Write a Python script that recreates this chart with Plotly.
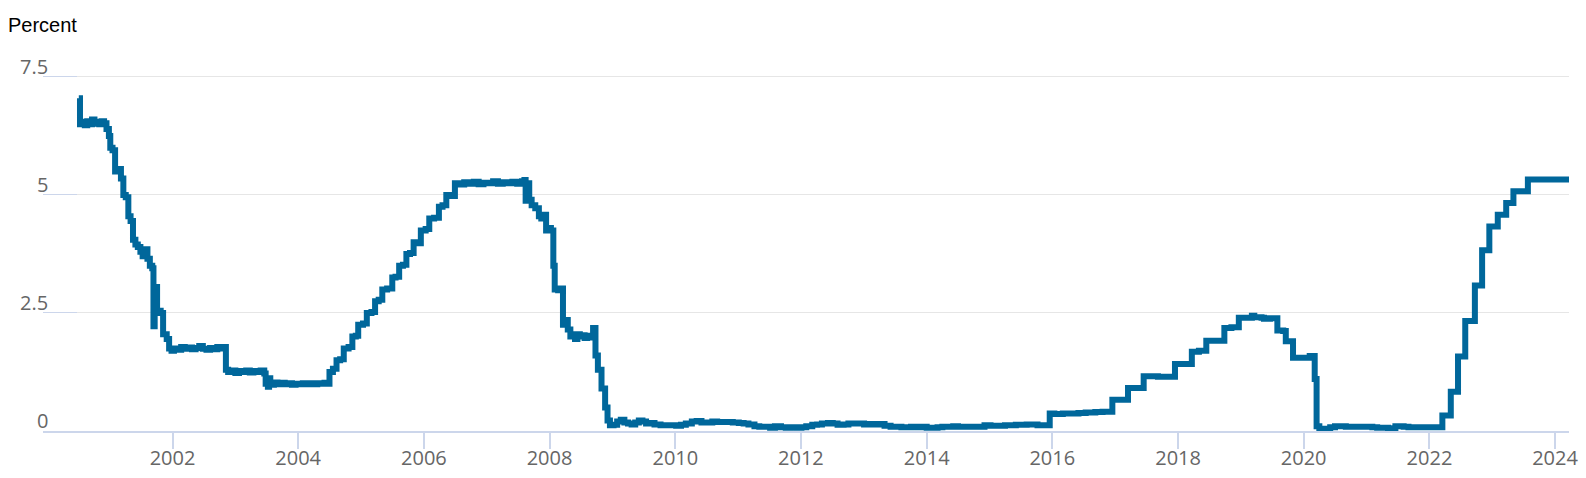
import plotly.graph_objects as go

# ---- data: effective federal funds rate (percent) ----
d2000 = ["2000-07-05","2000-07-12","2000-07-26","2000-08-09","2000-08-23","2000-09-06","2000-09-20",
         "2000-10-04","2000-10-18","2000-11-01","2000-11-15","2000-11-29","2000-12-13","2000-12-27"]
r2000 = [7.05,6.50,6.55,6.48,6.56,6.50,6.60,6.51,6.55,6.50,6.56,6.52,6.40,6.25]

d2001 = ["2001-01-04","2001-01-17","2001-02-01","2001-02-21","2001-03-07","2001-03-21","2001-04-04",
         "2001-04-19","2001-05-02","2001-05-16","2001-05-30","2001-06-13","2001-06-28","2001-07-11",
         "2001-07-25","2001-08-08","2001-08-22","2001-09-05","2001-09-12","2001-09-19","2001-10-03",
         "2001-10-24","2001-11-07","2001-11-28","2001-12-12","2001-12-26"]
r2001 = [6.00,5.95,5.50,5.55,5.35,5.00,4.95,4.55,4.45,4.05,3.95,3.90,3.80,3.70,
         3.85,3.65,3.50,3.45,2.22,3.05,2.55,2.50,2.05,1.95,1.75,1.70]

d2002 = ["2002-01-09","2002-01-30","2002-02-20","2002-03-13","2002-04-03","2002-04-24","2002-05-15",
         "2002-06-05","2002-06-26","2002-07-17","2002-08-07","2002-08-28","2002-09-18","2002-10-09",
         "2002-10-30","2002-11-07","2002-11-20","2002-12-11"]
r2002 = [1.75,1.72,1.78,1.74,1.77,1.73,1.76,1.80,1.74,1.72,1.76,1.73,1.78,1.75,
         1.78,1.30,1.25,1.28]

d2003 = ["2003-01-01","2003-01-22","2003-02-12","2003-03-05","2003-03-26","2003-04-16","2003-05-07",
         "2003-05-28","2003-06-18","2003-06-26","2003-07-09","2003-07-16","2003-07-23","2003-08-13",
         "2003-09-03","2003-09-24","2003-10-15","2003-11-05","2003-11-26","2003-12-17"]
r2003 = [1.23,1.27,1.25,1.28,1.24,1.27,1.25,1.28,1.22,1.00,0.94,1.12,0.98,1.03,
         0.99,1.02,0.99,1.01,0.98,1.00]

d2004 = ["2004-01-07","2004-01-28","2004-02-18","2004-03-10","2004-03-31","2004-04-21","2004-05-12",
         "2004-06-02","2004-06-23","2004-07-01","2004-07-21","2004-08-11","2004-09-01","2004-09-22",
         "2004-10-20","2004-11-11","2004-12-01","2004-12-15"]
r2004 = [0.99,1.01,0.99,1.01,0.99,1.01,1.00,1.02,1.00,1.25,1.32,1.50,1.52,1.75,
         1.78,2.00,2.02,2.25]

d2005 = ["2005-01-12","2005-02-03","2005-03-02","2005-03-23","2005-04-13","2005-05-04","2005-06-01",
         "2005-07-01","2005-07-20","2005-08-10","2005-09-01","2005-09-21","2005-10-12","2005-11-02",
         "2005-11-23","2005-12-14"]
r2005 = [2.28,2.50,2.52,2.75,2.78,3.00,3.02,3.25,3.27,3.50,3.52,3.75,3.77,4.00,3.98,4.25]

d2006 = ["2006-01-11","2006-02-01","2006-03-01","2006-03-29","2006-04-19","2006-05-11","2006-06-07",
         "2006-06-30","2006-07-26","2006-08-23","2006-09-20","2006-10-18","2006-11-15","2006-12-13"]
r2006 = [4.28,4.50,4.52,4.75,4.78,5.00,4.98,5.25,5.22,5.27,5.24,5.28,5.23,5.26]

d2007 = ["2007-01-10","2007-02-07","2007-03-07","2007-04-04","2007-05-02","2007-05-30","2007-06-27",
         "2007-07-25","2007-08-08","2007-08-15","2007-08-29","2007-09-05","2007-09-19","2007-10-10",
         "2007-10-31","2007-11-14","2007-11-28","2007-12-12","2007-12-26"]
r2007 = [5.25,5.29,5.24,5.27,5.25,5.28,5.24,5.29,5.32,4.88,5.25,4.90,4.78,4.72,
         4.55,4.50,4.58,4.25,4.30]

d2008 = ["2008-01-09","2008-01-23","2008-01-31","2008-02-20","2008-03-05","2008-03-19","2008-04-02",
         "2008-04-16","2008-05-01","2008-05-14","2008-05-28","2008-06-11","2008-06-25","2008-07-09",
         "2008-07-23","2008-08-06","2008-08-20","2008-09-03","2008-09-10","2008-09-24","2008-10-08",
         "2008-10-29","2008-11-19","2008-12-03","2008-12-17"]
r2008 = [4.25,3.50,3.00,2.98,3.02,2.25,2.35,2.15,2.00,2.05,1.95,2.05,2.00,2.03,
         1.97,2.02,2.00,1.98,2.18,1.60,1.30,0.90,0.50,0.22,0.12]

d2009 = ["2009-01-07","2009-01-28","2009-02-18","2009-03-11","2009-04-01","2009-04-22","2009-05-13",
         "2009-06-03","2009-06-24","2009-07-15","2009-08-05","2009-09-02","2009-10-07","2009-11-04",
         "2009-12-02"]
r2009 = [0.13,0.20,0.24,0.18,0.16,0.14,0.18,0.22,0.20,0.16,0.17,0.14,0.12,0.12,0.12]

d2010 = ["2010-01-06","2010-02-03","2010-03-03","2010-04-07","2010-05-05","2010-06-02","2010-07-07",
         "2010-08-04","2010-09-01","2010-10-06","2010-11-03","2010-12-01"]
r2010 = [0.11,0.13,0.16,0.20,0.21,0.18,0.18,0.20,0.19,0.19,0.19,0.18]

d2011 = ["2011-01-05","2011-02-02","2011-03-02","2011-04-06","2011-05-04","2011-06-01","2011-07-06",
         "2011-08-03","2011-09-07","2011-10-05","2011-11-02","2011-12-07"]
r2011 = [0.17,0.16,0.14,0.10,0.09,0.09,0.07,0.10,0.08,0.07,0.08,0.07]

d2012 = ["2012-01-04","2012-02-01","2012-03-07","2012-04-04","2012-05-02","2012-06-06","2012-07-04",
         "2012-08-01","2012-09-05","2012-10-03","2012-11-07","2012-12-05"]
r2012 = [0.08,0.10,0.13,0.14,0.16,0.17,0.16,0.13,0.14,0.16,0.16,0.16]

d2013 = ["2013-01-02","2013-02-06","2013-03-06","2013-04-03","2013-05-01","2013-06-05","2013-07-03",
         "2013-08-07","2013-09-04","2013-10-02","2013-11-06","2013-12-04"]
r2013 = [0.14,0.15,0.14,0.15,0.11,0.09,0.09,0.08,0.08,0.09,0.08,0.09]

d2014 = ["2014-01-01","2014-02-05","2014-03-05","2014-04-02","2014-05-07","2014-06-04","2014-07-02",
         "2014-08-06","2014-09-03","2014-10-01","2014-11-05","2014-12-03"]
r2014 = [0.07,0.07,0.08,0.09,0.09,0.10,0.09,0.09,0.09,0.09,0.09,0.12]

d2015 = ["2015-01-07","2015-02-04","2015-03-04","2015-04-01","2015-05-06","2015-06-03","2015-07-01",
         "2015-08-05","2015-09-02","2015-10-07","2015-11-04","2015-12-17"]
r2015 = [0.11,0.11,0.11,0.12,0.12,0.13,0.13,0.14,0.14,0.12,0.12,0.37]

d2016 = ["2016-01-13","2016-03-02","2016-04-13","2016-06-01","2016-07-13","2016-09-07","2016-10-19",
         "2016-12-15"]
r2016 = [0.36,0.37,0.37,0.38,0.39,0.40,0.41,0.66]

d2017 = ["2017-02-01","2017-03-16","2017-05-03","2017-06-15","2017-09-06","2017-12-14"]
r2017 = [0.66,0.91,0.91,1.16,1.15,1.42]

d2018 = ["2018-02-07","2018-03-22","2018-05-02","2018-06-14","2018-08-01","2018-09-27","2018-11-07",
         "2018-12-20"]
r2018 = [1.42,1.68,1.70,1.91,1.91,2.18,2.20,2.40]

d2019 = ["2019-02-06","2019-03-06","2019-03-20","2019-05-01","2019-05-15","2019-06-19","2019-08-01",
         "2019-09-04","2019-09-19","2019-10-31","2019-12-04"]
r2019 = [2.40,2.44,2.41,2.40,2.38,2.39,2.13,2.12,1.90,1.55,1.55]

d2020 = ["2020-01-08","2020-02-05","2020-03-05","2020-03-16","2020-04-01","2020-05-06","2020-06-03",
         "2020-07-01","2020-08-05","2020-09-02","2020-10-07","2020-11-04","2020-12-02"]
r2020 = [1.55,1.59,1.10,0.10,0.05,0.05,0.08,0.10,0.10,0.09,0.09,0.09,0.09]

d2021 = ["2021-01-06","2021-02-03","2021-03-03","2021-04-07","2021-05-05","2021-06-17","2021-07-07",
         "2021-08-04","2021-09-01","2021-10-06","2021-11-03","2021-12-01"]
r2021 = [0.09,0.08,0.07,0.07,0.06,0.10,0.10,0.09,0.08,0.08,0.08,0.08]

d2022 = ["2022-01-05","2022-03-17","2022-05-05","2022-06-16","2022-07-28","2022-09-22","2022-11-03",
         "2022-12-15"]
r2022 = [0.08,0.33,0.83,1.58,2.33,3.08,3.83,4.33]

d2023 = ["2023-02-02","2023-03-23","2023-05-04","2023-07-27","2023-10-04"]
r2023 = [4.58,4.83,5.08,5.33,5.33]

d2024 = ["2024-01-03","2024-03-27"]
r2024 = [5.33,5.33]

date_parts = [d2000,d2001,d2002,d2003,d2004,d2005,d2006,d2007,d2008,d2009,d2010,d2011,d2012,
              d2013,d2014,d2015,d2016,d2017,d2018,d2019,d2020,d2021,d2022,d2023,d2024]
rate_parts = [r2000,r2001,r2002,r2003,r2004,r2005,r2006,r2007,r2008,r2009,r2010,r2011,r2012,
              r2013,r2014,r2015,r2016,r2017,r2018,r2019,r2020,r2021,r2022,r2023,r2024]
dates, rates = [], []
for dp, rp in zip(date_parts, rate_parts):
    assert len(dp) == len(rp), (dp[0], len(dp), len(rp))
    dates += dp
    rates += rp

# ---- axis ticks ----
x_tick_years = [2002,2004,2006,2008,2010,2012,2014,2016,2018,2020,2022,2024]
x_tick_vals = [f"{y}-01-01" for y in x_tick_years]
x_tick_text = [str(y) for y in x_tick_years]
y_tick_vals = [0, 2.5, 5, 7.5]
y_tick_text = ["0", "2.5", "5", "7.5"]
y_title = "Percent"

LINE_COLOR = "#00679b"
LABEL_COLOR = "#666666"
AXIS_BLUE = "#ccd6eb"
TICK_FONT = dict(family="Open Sans", size=20, color=LABEL_COLOR)

fig = go.Figure()
fig.add_trace(go.Scatter(
    x=dates, y=rates, mode="lines", line_shape="hv",
    line=dict(color=LINE_COLOR, width=6), hoverinfo="skip", showlegend=False,
))

annotations = []
for v, t in zip(y_tick_vals, y_tick_text):
    annotations.append(dict(
        xref="paper", yref="y", x=0, y=v, text=t, showarrow=False,
        xanchor="right", yanchor="bottom", xshift=7, yshift=-5, font=TICK_FONT,
    ))
annotations.append(dict(
    xref="paper", yref="paper", x=0, y=1, text=y_title, showarrow=False,
    xanchor="left", yanchor="middle", xshift=-37, yshift=50,
    font=dict(family="Liberation Sans", size=20, color="#000000"),
))

fig.update_layout(
    width=1586, height=478,
    margin=dict(l=43, r=17, t=75, b=47, autoexpand=False),
    paper_bgcolor="white", plot_bgcolor="white",
    annotations=annotations,
    xaxis=dict(
        type="date", range=["1999-12-10", "2024-03-22"],
        tickmode="array", tickvals=x_tick_vals, ticktext=x_tick_text,
        showgrid=False, zeroline=False, automargin=False,
        showline=True, linecolor=AXIS_BLUE, linewidth=2,
        ticks="outside", ticklen=16, tickwidth=2, tickcolor=AXIS_BLUE,
        ticklabelstandoff=-8,
        tickfont=TICK_FONT, fixedrange=True,
    ),
    yaxis=dict(
        range=[0, 7.542], tickmode="array", tickvals=y_tick_vals,
        showticklabels=False, showgrid=True, gridcolor="#e6e6e6", gridwidth=1,
        zeroline=False, showline=False, automargin=False,
        ticks="inside", ticklen=34, tickwidth=1, tickcolor=AXIS_BLUE, fixedrange=True,
    ),
)

fig.write_html("out.html", config={"displayModeBar": False},
               post_script="document.body.style.margin='0';")
